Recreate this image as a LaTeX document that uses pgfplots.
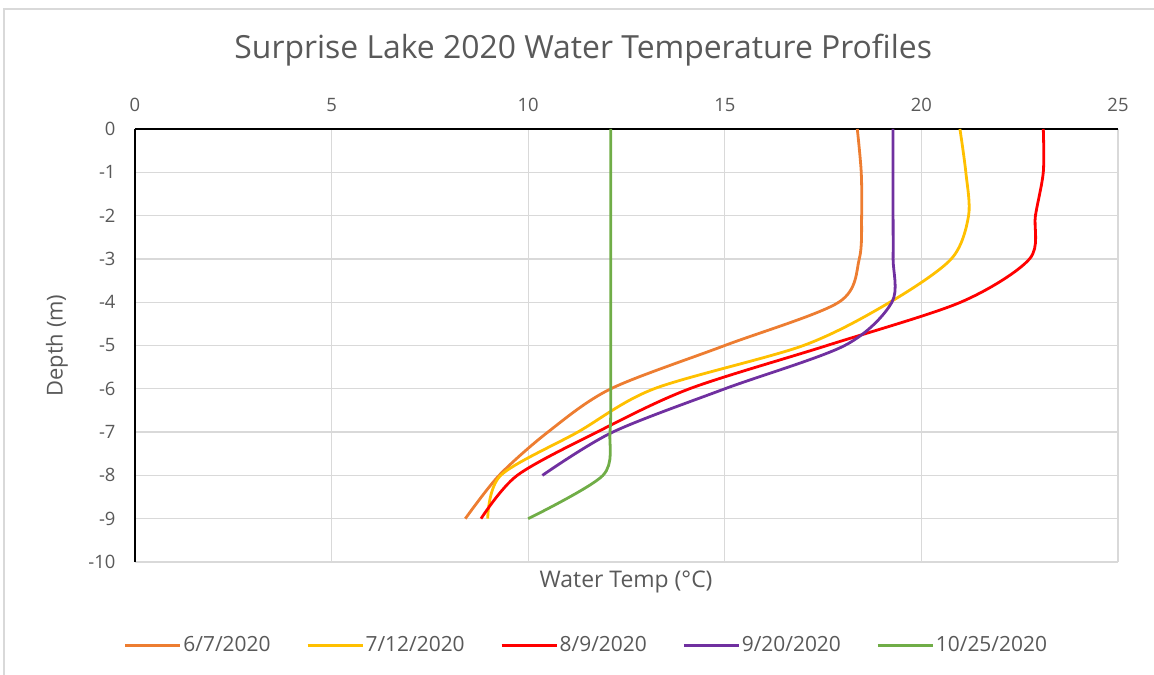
\documentclass[border=0pt]{standalone}
\usepackage{fontspec}
\setmainfont{Open Sans}
\usepackage{pgfplots}
\pgfplotsset{compat=1.18}

\definecolor{cOrange}{HTML}{ED7D31}
\definecolor{cYellow}{HTML}{FFC000}
\definecolor{cRed}{HTML}{FF0000}
\definecolor{cPurple}{HTML}{7030A0}
\definecolor{cGreen}{HTML}{70AD47}
\definecolor{txt}{HTML}{595959}
\definecolor{gridc}{HTML}{D9D9D9}

\begin{document}
\begin{tikzpicture}
% outer chart frame (partly cropped in the reference)
\draw[gridc, line width=1.5bp] (-131bp,-113bp) -- (-131bp,553bp) -- (1019bp,553bp);
\begin{axis}[
    scale only axis,
    width=983bp, height=433bp,
    xmin=0, xmax=25, ymin=-10, ymax=0,
    xtick={0,5,...,25}, ytick={-10,-9,...,0},
    axis x line*=top, axis y line*=left,
    axis line style={black, line width=1.6bp, -},
    grid=major,
    major grid style={draw=gridc, line width=1.3bp},
    major tick length=0pt,
    /pgf/number format/assume math mode=true,
    tick label style={font=\fontsize{18.5}{20}\selectfont, text=txt},
    xticklabel style={yshift=14bp},
    yticklabel style={xshift=-16bp},
    legend columns=5,
    legend style={at={(rel axis cs:0.459,0)}, anchor=center, yshift=-83bp,
        draw=none, font=\fontsize{21}{24}\selectfont, text=txt,
        nodes={inner sep=1.5bp},
        /tikz/every even column/.append style={column sep=34bp}},
    legend image code/.code={\draw[#1, line width=3bp] (0bp,0bp) -- (55bp,0bp);},
    every axis plot/.append style={line width=2.8bp, smooth},
    clip=false,
]
\addplot[cOrange] coordinates {
(18.37,0) (18.47,-1) (18.48,-2) (18.42,-3) (17.9,-4) (15.0,-5)
(12.1,-6) (10.5,-7) (9.26,-8) (8.4,-9)
};
\addlegendentry{6/7/2020}
\addplot[cYellow] coordinates {
(20.98,0) (21.13,-1) (21.2,-2) (20.76,-3) (19.2,-4) (17.0,-5)
(13.2,-6) (11.26,-7) (9.3,-8) (8.97,-9)
};
\addlegendentry{7/12/2020}
\addplot[cRed] coordinates {
(23.1,0) (23.1,-1) (22.9,-2) (22.75,-3) (21.0,-4) (17.6,-5)
(14.1,-6) (11.75,-7) (9.72,-8) (8.8,-9)
};
\addlegendentry{8/9/2020}
\addplot[cPurple] coordinates {
(19.28,0) (19.28,-1) (19.28,-2) (19.28,-3) (19.25,-4) (18.05,-5)
(15.0,-6) (12.15,-7) (10.36,-8)
};
\addlegendentry{9/20/2020}
\addplot[cGreen] coordinates {
(12.1,0) (12.1,-1) (12.1,-2) (12.1,-3) (12.1,-4) (12.1,-5)
(12.1,-6) (12.08,-7) (11.9,-8) (10.0,-9)
};
\addlegendentry{10/25/2020}

\node[font=\fontsize{32}{36}\selectfont, text=txt] at (rel axis cs:0.456,1) [yshift=79bp] {Surprise Lake 2020 Water Temperature Profiles};
\node[font=\fontsize{23}{26}\selectfont, text=txt] at (axis cs:12.49,-10) [yshift=-20bp] {Water Temp (°C)};
\node[xshift=-78bp, rotate=90, font=\fontsize{22}{25}\selectfont, text=txt] at (rel axis cs:0,0.5) {Depth (m)};
\end{axis}
\pgfresetboundingbox
\path[use as bounding box] (-135bp,-113bp) rectangle (1019bp,562bp);
\end{tikzpicture}
\end{document}
